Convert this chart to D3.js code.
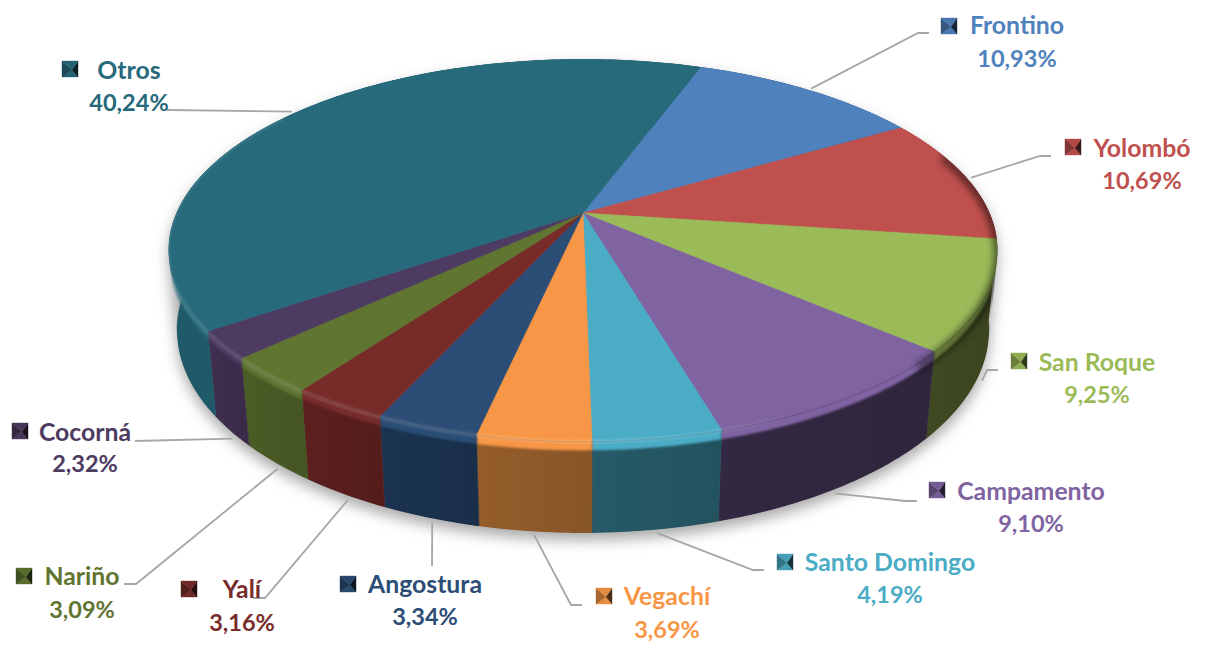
<!DOCTYPE html>
<html>
<head>
<meta charset="utf-8">
<script src="https://cdn.jsdelivr.net/npm/d3@7/dist/d3.min.js"></script>
<style>
  html, body { margin: 0; background: #fff; }
  svg { display: block; }
  text { font-family: Lato, "Open Sans", sans-serif; font-weight: 700; text-anchor: middle; }
  .name { font-size: 24.8px; }
  .value { font-size: 23.5px; }
</style>
</head>
<body>
<svg width="1211" height="646"></svg>
<script>
// data, clockwise from the Frontino slice
var categories = ['Frontino', 'Yolombó', 'San Roque', 'Campamento', 'Santo Domingo', 'Vegachí', 'Angostura', 'Yalí', 'Nariño', 'Cocorná', 'Otros'];
var shares = [10.93, 10.69, 9.25, 9.10, 4.19, 3.69, 3.34, 3.16, 3.09, 2.32, 40.24];

// colours
var topColors = ['#4f81bd', '#c0504d', '#9bbb59', '#8064a2', '#4bacc6', '#f79646', '#2c4d75', '#772c2a', '#5f7530', '#4d3b62', '#276a7c'];
var wallColors = ['#2f4d71', '#73302e', '#3f4a23', '#332842', '#265a68', '#955d2b', '#1b3350', '#5c201f', '#4b5d26', '#402f50', '#205a69'];

// label layout: [key x, key y, text centre x, name baseline, value baseline]
var labelBoxes = [
  [941, 18, 1017, 34, 67], [1065, 139, 1142, 157, 189], [1011, 353, 1097, 371, 403],
  [929, 482, 1031, 500, 532], [777, 554, 890, 571, 603], [596, 588, 667, 605, 638],
  [340, 576, 425, 593, 625], [181, 581, 242, 598, 631], [16, 568, 82, 585, 618],
  [12, 423, 85, 441, 472], [62, 61, 129, 79, 111]
];
// leader line: points after the start on the slice, whether it starts on the lower rim,
// and how far (degrees) the start sits from the middle of the slice
var leaderEnds = [
  [[918, 33], [929, 33]], [[1040, 156], [1051, 156]], [[987, 370], [998, 370]],
  [[905, 501], [917, 501]], [[753, 570], [764, 570]], [[571, 605], [582, 605]],
  [[432, 566]], [[265, 598], [253, 598]], [[136, 584], [124, 584]],
  [[135, 441]], [[167, 110]]
];
var leaderOnWall = [false, false, true, true, true, true, true, true, true, true, false];
var leaderShift = [0, 0, 0, 1, 0, 0, -0.5, -1, -1, -1.5, 0];

var svg = d3.select('svg');
var defs = svg.append('defs');

// pie geometry, seen in perspective
var cx = 583, cy = 213, radiusX = 406.6, radiusY = 183.8, tilt = 0.194, depth = 80.5, depthW = 0.02;
var rad = Math.PI / 180;

function project(angle, r, h) {
  var u = Math.sin(angle) * r, v = -Math.cos(angle) * r;
  var f = h / depth;
  var w = 1 - tilt * v + depthW * f;
  return [cx + radiusX * u / w, cy + (radiusY * v + h) / w];
}

function arcPoints(a0, a1, r, h) {
  var n = Math.max(2, Math.ceil((a1 - a0) / rad));
  return d3.range(n + 1).map(function (i) {
    return project(a0 + (a1 - a0) * i / n, r, h);
  });
}

var line = d3.line();
var firstAngle = 20 * rad;
var pie = d3.pie().sort(null).startAngle(firstAngle).endAngle(firstAngle + 2 * Math.PI);
var slices = pie(shares);

function blurFilter(id, amount) {
  defs.append('filter').attr('id', id)
    .attr('x', '-10%').attr('y', '-10%').attr('width', '120%').attr('height', '125%')
    .append('feGaussianBlur').attr('stdDeviation', amount);
}
blurFilter('shadow', 7);
blurFilter('soft', 1.3);
blurFilter('softer', 3.5);

// shadow under the whole pie
var outline = d3.polygonHull(
  arcPoints(0, 2 * Math.PI, 1, 0).concat(arcPoints(0, 2 * Math.PI, 1, depth))
);
svg.append('path')
  .attr('d', line(outline) + 'Z')
  .attr('fill', '#a8a8a8')
  .attr('transform', 'translate(0,7)')
  .attr('filter', 'url(#shadow)');

// the pie stays inside its outline
defs.append('clipPath').attr('id', 'pieClip').append('path').attr('d', line(outline) + 'Z');
var pieGroup = svg.append('g').attr('clip-path', 'url(#pieClip)');

// outer walls
slices.forEach(function (d, i) {
  var top = arcPoints(d.startAngle, d.endAngle, 1, 0);
  var bottom = arcPoints(d.startAngle, d.endAngle, 1, depth).reverse();
  var xs = d3.extent(top, function (p) { return p[0]; });
  var grad = defs.append('linearGradient').attr('id', 'wall' + i)
    .attr('gradientUnits', 'userSpaceOnUse')
    .attr('x1', xs[0]).attr('x2', xs[1]).attr('y1', 0).attr('y2', 0);
  grad.append('stop').attr('offset', 0).attr('stop-color', wallColors[i]);
  grad.append('stop').attr('offset', 1).attr('stop-color', d3.color(wallColors[i]).darker(0.25));
  pieGroup.append('path')
    .attr('d', line(top.concat(bottom)) + 'Z')
    .attr('fill', 'url(#wall' + i + ')')
    .attr('stroke', 'url(#wall' + i + ')')
    .attr('stroke-width', 0.5);
});

// top colour rolling over the rim
slices.forEach(function (d, i) {
  var upper = arcPoints(d.startAngle, d.endAngle, 1, 0);
  var lower = arcPoints(d.startAngle, d.endAngle, 1, 8).reverse();
  pieGroup.append('path')
    .attr('d', line(upper.concat(lower)) + 'Z')
    .attr('fill', topColors[i])
    .attr('filter', 'url(#soft)');
});

// top faces
slices.forEach(function (d, i) {
  var pts = [project(0, 0, 0)].concat(arcPoints(d.startAngle, d.endAngle, 1, 0));
  pieGroup.append('path')
    .attr('d', line(pts) + 'Z')
    .attr('fill', topColors[i])
    .attr('stroke', topColors[i])
    .attr('stroke-width', 0.5);
});

// rim light on the left and the front
var lightGrad = defs.append('linearGradient').attr('id', 'lightGrad')
  .attr('gradientUnits', 'userSpaceOnUse')
  .attr('x1', 170).attr('x2', 1000).attr('y1', 0).attr('y2', 0);
[[0, 0.13], [0.55, 0.17], [0.68, 0.1], [0.76, 0]].forEach(function (s) {
  lightGrad.append('stop').attr('offset', s[0]).attr('stop-color', '#fff').attr('stop-opacity', s[1]);
});
pieGroup.append('path')
  .attr('d', line(arcPoints(125 * rad, 305 * rad, 1.002, 0)))
  .attr('fill', 'none')
  .attr('stroke', 'url(#lightGrad)')
  .attr('stroke-width', 3.5)
  .attr('filter', 'url(#soft)');

// rim shade on the right
var shadeGrad = defs.append('linearGradient').attr('id', 'shadeGrad')
  .attr('gradientUnits', 'userSpaceOnUse')
  .attr('x1', 170).attr('x2', 1000).attr('y1', 0).attr('y2', 0);
[[0.8, 0], [0.9, 0.4], [1, 0.55]].forEach(function (s) {
  shadeGrad.append('stop').attr('offset', s[0]).attr('stop-color', '#000').attr('stop-opacity', s[1]);
});
pieGroup.append('path')
  .attr('d', line(arcPoints(70 * rad, 135 * rad, 1.004, 3)))
  .attr('fill', 'none')
  .attr('stroke', 'url(#shadeGrad)')
  .attr('stroke-width', 10)
  .attr('filter', 'url(#softer)');

// leader lines
slices.forEach(function (d, i) {
  var mid = (d.startAngle + d.endAngle) / 2 + leaderShift[i] * rad;
  var start = project(mid, 1.012, leaderOnWall[i] ? depth : 0);
  svg.append('path')
    .attr('d', line([start].concat(leaderEnds[i])))
    .attr('fill', 'none')
    .attr('stroke', '#a6a6a6')
    .attr('stroke-width', 1.8);
});

// labels with their bevelled legend keys
var keySize = 16;
var percent = d3.formatLocale({ decimal: ',', thousands: '.', grouping: [3], currency: ['', ''] }).format('.2f');

categories.forEach(function (name, i) {
  var b = labelBoxes[i], c = topColors[i];
  var x0 = b[0], y0 = b[1], x1 = x0 + keySize, y1 = y0 + keySize;
  var mx = x0 + keySize * 0.62, my = y0 + keySize * 0.55;
  var base = d3.color(c);
  var facets = [
    [[[x0, y1], [x1, y1], [mx, my]], base.darker(0.2)],
    [[[x0, y0], [x0, y1], [mx, my]], base.darker(1.1)],
    [[[x1, y0], [x1, y1], [mx, my]], base.darker(3.4)],
    [[[x0, y0], [x1, y0], [mx, my]], base.darker(0.25)]
  ];
  var key = svg.append('g');
  facets.forEach(function (f) {
    key.append('path').attr('d', line(f[0]) + 'Z')
      .attr('fill', f[1]).attr('stroke', f[1]).attr('stroke-width', 0.4);
  });
  svg.append('text').attr('class', 'name').attr('x', b[2]).attr('y', b[3]).attr('fill', c).text(name);
  svg.append('text').attr('class', 'value').attr('x', b[2]).attr('y', b[4]).attr('fill', c).text(percent(shares[i]) + '%');
});
</script>
</body>
</html>
